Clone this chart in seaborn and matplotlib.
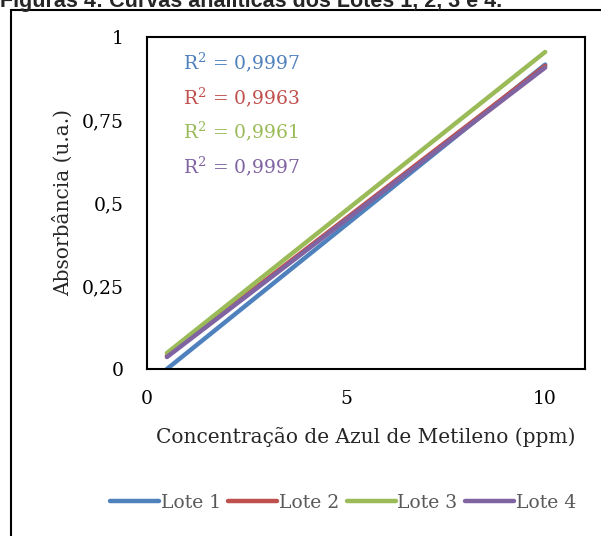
import pandas as pd
import matplotlib.pyplot as plt
import seaborn as sns
from matplotlib.patches import Rectangle

# Data (two-point linear trendlines)
lotes = ['Lote 1', 'Lote 2', 'Lote 3', 'Lote 4']
x_vals = [0.5, 10.0]
y_start = [0.0, 0.040, 0.048, 0.036]
y_end = [0.917, 0.913, 0.955, 0.908]
r2_labels = ['0,9997', '0,9963', '0,9961', '0,9997']
colors = ['#4F81BD', '#C0504D', '#9BBB59', '#8064A2']

rows = []
for lote, y0, y1 in zip(lotes, y_start, y_end):
    rows.append({'lote': lote, 'x': x_vals[0], 'y': y0})
    rows.append({'lote': lote, 'x': x_vals[1], 'y': y1})
df = pd.DataFrame(rows)

sns.set_style('white')
plt.rcParams['font.family'] = ['DejaVu Serif']
plt.rcParams['mathtext.fontset'] = 'dejavuserif'
fs = 13.5

fig = plt.figure(figsize=(6.01, 5.36), dpi=100)
ax = fig.add_axes([147 / 601, 1 - 369 / 536, 438 / 601, 332 / 536])

sns.lineplot(data=df, x='x', y='y', hue='lote', palette=colors, linewidth=3.2,
             solid_capstyle='round', ax=ax, legend=True)

ax.set_xlim(0, 11)
ax.set_ylim(0, 1)
ax.set_xticks([0, 5, 10])
ax.set_xticklabels(['0', '5', '10'])
ax.set_yticks([0, 0.25, 0.5, 0.75, 1])
ax.set_yticklabels(['0', '0,25', '0,5', '0,75', '1'])
ax.tick_params(axis='both', labelsize=fs, length=0, colors='black')
ax.tick_params(axis='x', pad=15)
ax.tick_params(axis='y', pad=17)
for s in ax.spines.values():
    s.set_visible(True)
    s.set_color('black')
    s.set_linewidth(1.5)

ax.set_xlabel('Concentração de Azul de Metileno (ppm)', fontsize=14.5, labelpad=14)
ax.set_ylabel('Absorbância (u.a.)', fontsize=14.5, labelpad=6)

# R² annotations
for i, (lab, c) in enumerate(zip(r2_labels, colors)):
    ax.text(0.9, 0.925 - i * 0.105, 'R$^2$ = ' + lab, color=c, fontsize=fs,
            va='center', ha='left')

handles, labels = ax.get_legend_handles_labels()
ax.get_legend().remove()
leg = fig.legend(handles, labels, loc='center', bbox_to_anchor=(343 / 601, 1 - 503 / 536),
                 ncol=4, frameon=False, fontsize=fs, handlelength=2.6,
                 handletextpad=0.1, columnspacing=0.4)
for t in leg.get_texts():
    t.set_color('#595959')

# outer chart border
fig.patches.append(Rectangle((11 / 601, -0.05), 1.1, 1 - 10 / 536 + 0.05,
                             transform=fig.transFigure, fill=False,
                             edgecolor='black', linewidth=1.5))

# title, cut off at the top like the source
fig.text(0.0, 1 - 7 / 536, 'Figuras 4: Curvas analíticas dos Lotes 1, 2, 3 e 4.',
         fontsize=15.5, fontweight='bold', family='Liberation Sans',
         ha='left', va='baseline')

fig.savefig('out.png', dpi=100)
